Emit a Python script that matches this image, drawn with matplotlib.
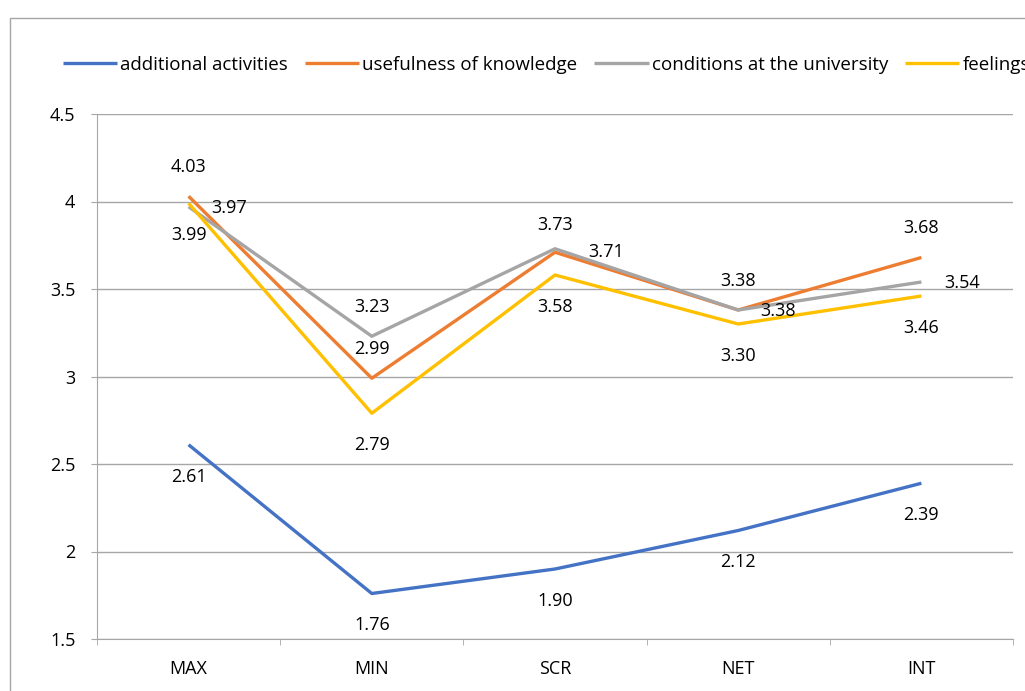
import numpy as np
import matplotlib
matplotlib.use("Agg")
from matplotlib import pyplot as plt
from matplotlib.patches import Rectangle

plt.rcParams['font.family'] = ['Open Sans', 'DejaVu Sans']

categories = ['MAX', 'MIN', 'SCR', 'NET', 'INT']
additional = [2.61, 1.76, 1.90, 2.12, 2.39]
usefulness = [4.03, 2.99, 3.71, 3.38, 3.68]
conditions = [3.97, 3.23, 3.73, 3.38, 3.54]
feelings = [3.99, 2.79, 3.58, 3.30, 3.46]

series = [
    ('additional activities', additional, '#4472C4'),
    ('usefulness of knowledge', usefulness, '#ED7D31'),
    ('conditions at the university', conditions, '#A5A5A5'),
    ('feelings', feelings, '#FFC000'),
]

# where the data labels sit (Excel style), one code per point
label_pos = [
    ['below', 'below', 'below', 'below', 'below'],
    ['above', 'above', 'right_far', 'above', 'above'],
    ['right', 'above', 'above_near', 'right', 'right'],
    ['below', 'below', 'below', 'below', 'below'],
]
# offsets in points
offs = {'above': (0, 21), 'above_near': (0, 17), 'below': (0, -23),
        'right': (29, -1), 'right_far': (37, 0)}

fig = plt.figure(figsize=(10.25, 6.91), dpi=100)
# outer chart frame
fig.patches.append(Rectangle((10 / 1025, -0.1), 1.2, (691 - 18) / 691 + 0.1,
                             transform=fig.transFigure, fill=False,
                             edgecolor='#A6A6A6', linewidth=1.0))

ax = fig.add_axes([97 / 1025, 52 / 691, 916 / 1025, 525 / 691])
x = np.arange(len(categories))

for (name, vals, col), pos in zip(series, label_pos):
    ax.plot(x, vals, color=col, linewidth=2.4, label=name, solid_capstyle='butt')
    for xi, v, p in zip(x, vals, pos):
        ax.annotate('%.2f' % v, (xi, v), xytext=offs[p], textcoords='offset points',
                    ha='center', va='center', fontsize=13, color='#000000')

ax.set_xlim(-0.5, len(categories) - 0.5)
ax.set_ylim(1.5, 4.5)
ax.set_yticks([1.5, 2, 2.5, 3, 3.5, 4, 4.5])
ax.set_yticklabels(['1.5', '2', '2.5', '3', '3.5', '4', '4.5'], fontsize=13)
ax.set_xticks(x)
ax.set_xticklabels(categories, fontsize=13)
ax.set_xticks(np.arange(-0.5, len(categories)), minor=True)
ax.tick_params(axis='x', which='major', length=0, pad=15)
ax.tick_params(axis='x', which='minor', length=4.5, color='#A6A6A6', direction='out')
ax.tick_params(axis='y', length=4.5, color='#A6A6A6', pad=11)
ax.grid(axis='y', color='#A6A6A6', linewidth=1.0)
ax.set_axisbelow(True)
for s in ['top', 'right']:
    ax.spines[s].set_visible(False)
ax.spines['left'].set_color('#A6A6A6')
ax.spines['bottom'].set_color('#A6A6A6')

fig.legend(loc='center left', bbox_to_anchor=(63 / 1025, 1 - 65 / 691), ncol=4,
           frameon=False, fontsize=13.5, handlelength=2.9, handletextpad=0.16,
           columnspacing=0.9, borderaxespad=0, borderpad=0)

fig.savefig('out.png', dpi=100)
